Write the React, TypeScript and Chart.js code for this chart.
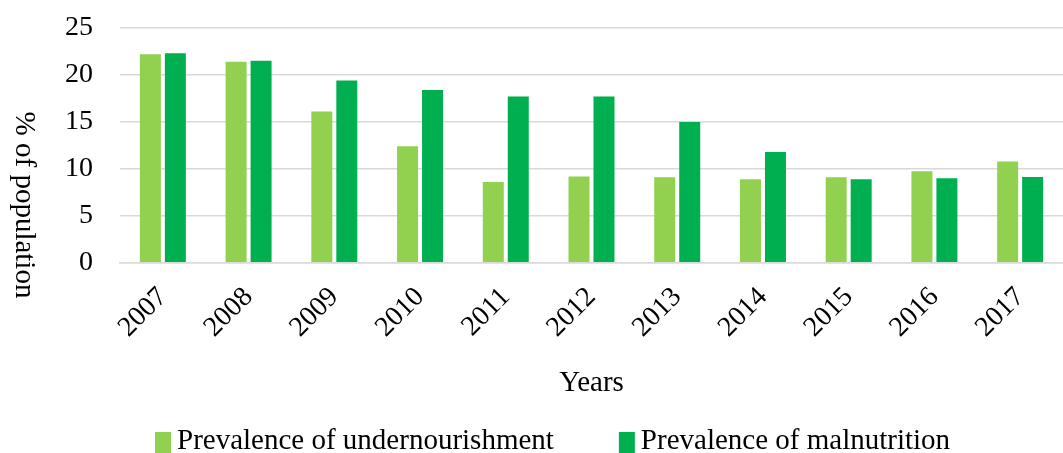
import React, { useEffect, useRef } from "react";
import { Chart, registerables } from "chart.js";

Chart.register(...registerables);

const years = ["2007", "2008", "2009", "2010", "2011", "2012", "2013", "2014", "2015", "2016", "2017"];
const undernourishment = [22.2, 21.4, 16.1, 12.4, 8.6, 9.2, 9.1, 8.9, 9.1, 9.75, 10.8];
const malnutrition = [22.3, 21.5, 19.4, 18.4, 17.7, 17.7, 15.0, 11.8, 8.9, 9.0, 9.15];
const yTicks = [0, 5, 10, 15, 20, 25];
const yTitle = "% of population";

const FONT = "'Liberation Serif', 'Times New Roman', serif";
const TEXT_SIZE = 29;
const TICK_SIZE = 28;

// Y-axis title, turned clockwise so it reads from top to bottom.
const sideTitle = {
  id: "sideTitle",
  afterDraw(chart: any) {
    const { ctx } = chart;
    ctx.save();
    ctx.translate(24, 205);
    ctx.rotate(Math.PI / 2);
    ctx.font = `${TEXT_SIZE}px ${FONT}`;
    ctx.fillStyle = "#000000";
    ctx.textAlign = "center";
    ctx.textBaseline = "middle";
    ctx.fillText(yTitle, 0, 0);
    ctx.restore();
  },
};

// Legend row under the x-axis title: swatch, then the series name.
const bottomLegend = {
  id: "bottomLegend",
  afterDraw(chart: any) {
    const { ctx } = chart;
    const startX = 155;
    const baseline = 449;
    const swatchW = 16;
    const swatchTop = 432;
    const swatchH = 22;
    const textGap = 6;
    const itemGap = 65;
    ctx.save();
    ctx.font = `${TEXT_SIZE}px ${FONT}`;
    ctx.textBaseline = "alphabetic";
    ctx.textAlign = "left";
    let x = startX;
    chart.data.datasets.forEach((ds: any) => {
      ctx.fillStyle = ds.backgroundColor;
      ctx.fillRect(x, swatchTop, swatchW, swatchH);
      x += swatchW + textGap;
      ctx.fillStyle = "#000000";
      ctx.fillText(ds.label, x, baseline);
      x += ctx.measureText(ds.label).width + itemGap;
    });
    ctx.restore();
  },
};

export default function App() {
  const canvasRef = useRef<HTMLCanvasElement | null>(null);

  useEffect(() => {
    document.body.style.margin = "0";
    const canvas = canvasRef.current;
    if (!canvas) return;
    const chart = new Chart(canvas, {
      type: "bar",
      data: {
        labels: years,
        datasets: [
          {
            label: "Prevalence of undernourishment",
            data: undernourishment,
            backgroundColor: "#92D050",
            borderWidth: 0,
            barPercentage: 0.84,
            categoryPercentage: 0.583,
          },
          {
            label: "Prevalence of malnutrition",
            data: malnutrition,
            backgroundColor: "#00B050",
            borderWidth: 0,
            barPercentage: 0.84,
            categoryPercentage: 0.583,
          },
        ],
      },
      plugins: [sideTitle, bottomLegend],
      options: {
        animation: false,
        responsive: false,
        maintainAspectRatio: false,
        layout: { padding: { top: 0, right: 0, left: 38, bottom: 40 } },
        plugins: {
          tooltip: { enabled: false },
          legend: { display: false },
        },
        scales: {
          x: {
            grid: { display: false, drawTicks: false },
            border: { display: true, color: "#d9d9d9", width: 1.5 },
            ticks: {
              font: { family: FONT, size: TICK_SIZE },
              color: "#000000",
              minRotation: 45,
              maxRotation: 45,
              padding: 18,
            },
            title: {
              display: true,
              text: "Years",
              font: { family: FONT, size: TEXT_SIZE },
              color: "#000000",
              padding: { top: 4, bottom: 12 },
            },
          },
          y: {
            min: 0,
            max: 25,
            afterBuildTicks: (axis: any) => {
              axis.ticks = yTicks.map((v) => ({ value: v }));
            },
            grid: { color: "#d9d9d9", lineWidth: 1.5, drawTicks: false },
            border: { display: false },
            ticks: {
              font: { family: FONT, size: TICK_SIZE, lineHeight: 0.07 },
              color: "#000000",
              padding: 27,
            },
          },
        },
      },
    });
    return () => chart.destroy();
  }, []);

  return (
    <div style={{ position: "fixed", left: 0, top: 0, width: 1063, height: 453, background: "#fff" }}>
      <canvas ref={canvasRef} width={1063} height={453} style={{ width: 1063, height: 453 }} />
    </div>
  );
}
